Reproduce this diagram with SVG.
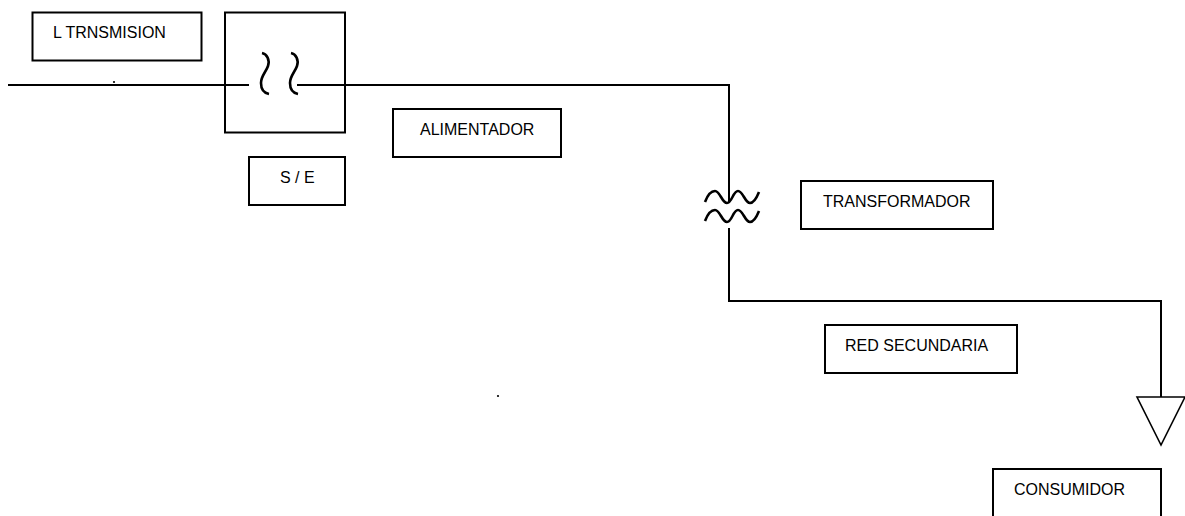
<svg xmlns="http://www.w3.org/2000/svg" width="1185" height="516" viewBox="0 0 1185 516">
<style>
.b{fill:#fff;stroke:#000;stroke-width:2}
.l{fill:none;stroke:#000;stroke-width:2}
.s{fill:none;stroke:#000;stroke-width:2.6}
text{font-family:"Liberation Sans",Arial,sans-serif;font-size:16px;fill:#000}
</style>
<rect width="1185" height="516" fill="#fff"/>
<g id="n-ltrans"><rect class="b" x="32.500" y="12.500" width="169" height="48"/><text x="53" y="38">L TRNSMISION</text></g>
<g id="n-se-sym"><rect class="b" x="225" y="12.500" width="120" height="120"/><path class="s" d="M262 53C267 54 270 60 268 66C266 72 261 76 261 83C261 89 264 93 269 94"/><path class="s" d="M291 53C296 54 299 60 297 66C295 72 290 76 290 83C290 89 293 93 298 94"/></g>
<g id="n-se"><rect class="b" x="249" y="157" width="96" height="48"/><text x="280" y="183">S / E</text></g>
<g id="n-alim"><rect class="b" x="393" y="109" width="168" height="48"/><text x="420" y="135">ALIMENTADOR</text></g>
<g id="n-trafo"><rect class="b" x="801" y="181" width="192" height="48"/><text x="823" y="207">TRANSFORMADOR</text>
<path class="s" d="M705 202C708 194 711 191 715 191C720 191 722 203 727 203C732 203 733 191 738 191C743 191 745 203 750 203C754 203 757 197 759 192"/>
<path class="s" d="M705 221C708 213 711 210 715 210C720 210 722 222 727 222C732 222 733 210 738 210C743 210 745 222 750 222C754 222 757 216 759 211"/></g>
<g id="n-red"><rect class="b" x="825" y="325" width="192" height="48"/><text x="845" y="351">RED SECUNDARIA</text></g>
<g id="n-cons"><rect class="b" x="993" y="469" width="168" height="48"/><text x="1014" y="495">CONSUMIDOR</text></g>
<g id="n-load"><path class="l" style="stroke-width:1.6" d="M1137 397H1185L1161 445Z"/></g>
<g id="connectors">
<path class="l" d="M8 85H249"/>
<path class="l" d="M297 85H729V203"/>
<path class="l" d="M729 228V301H1161V397"/>
</g>
<circle cx="114" cy="82" r="1.100" fill="#000"/>
<circle cx="498" cy="396" r="1.100" fill="#000"/>
</svg>
